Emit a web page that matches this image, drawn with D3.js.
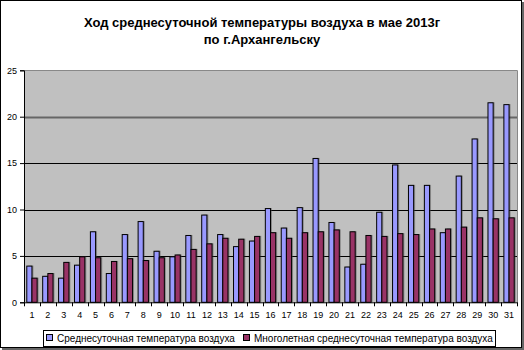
<!DOCTYPE html>
<html><head><meta charset="utf-8">
<script src="https://cdn.jsdelivr.net/npm/d3@7"></script>
<style>
html,body{margin:0;padding:0;background:#fff;}
svg{display:block;font-family:"Liberation Sans",Arial,sans-serif;}
</style></head>
<body>
<svg id="c" width="524" height="350"></svg>
<script>
const days = d3.range(1, 32).map(String);
const actual = [3.9,2.8,2.6,4.0,7.6,3.1,7.3,8.7,5.5,4.9,7.2,9.4,7.3,6.0,6.6,10.1,8.0,10.2,15.5,8.6,3.8,4.1,9.7,14.8,12.6,12.6,7.5,13.6,17.6,21.5,21.3];
const normal = [2.6,3.1,4.3,4.9,4.8,4.4,4.7,4.5,4.8,5.1,5.7,6.3,6.9,6.8,7.1,7.5,6.9,7.5,7.6,7.8,7.6,7.2,7.1,7.4,7.3,7.9,7.9,8.1,9.1,9.0,9.1];
const yTicks = [0,5,10,15,20,25];
const seriesNames = ["Среднесуточная температура воздуха","Многолетная  среднесуточная температура воздуха"];
const colors = ["#9999FF","#993366"];
const titleLines = ["Ход среднесуточной температуры воздуха в мае 2013г","по г.Архангельску"];

const svg = d3.select("#c");
// outer border
svg.append("rect").attr("x",0.5).attr("y",0.5).attr("width",521).attr("height",347)
  .attr("fill","#fff").attr("stroke","#000");
svg.append("line").attr("x1",523).attr("x2",523).attr("y1",2).attr("y2",350).attr("stroke","#666").attr("stroke-width",2);
svg.append("line").attr("x1",2).attr("x2",524).attr("y1",349).attr("y2",349).attr("stroke","#666").attr("stroke-width",2);

const L = 24, R = 517, T = 70.3, B = 302.3;
const x = d3.scaleBand().domain(days).range([L, R]).paddingInner(0.35).paddingOuter(0.175);
const xs = d3.scaleBand().domain([0,1]).range([0, x.bandwidth()]);
const y = d3.scaleLinear().domain([0,25]).range([B, T]);

// plot bg
svg.append("rect").attr("x",L).attr("y",T).attr("width",R-L).attr("height",B-T).attr("fill","#C0C0C0");
// grid
yTicks.filter(v=>v>0).forEach(v=>{
  const yy = Math.round(y(v))+0.5;
  svg.append("line").attr("x1",L).attr("x2",R).attr("y1",yy).attr("y2",yy)
    .attr("stroke", v===20?"#666":(v===25?"#888":"#000"))
    .attr("stroke-width", v===20?2:1);
});
svg.append("line").attr("x1",R+0.5).attr("x2",R+0.5).attr("y1",T).attr("y2",B).attr("stroke","#888");

// bars
[actual, normal].forEach((vals, si) => {
  const g = svg.append("g");
  g.selectAll("rect.sh").data(vals).join("rect")
    .attr("x",(d,i)=>x(days[i])+xs(si)+1.5).attr("y",d=>y(d)-0.5)
    .attr("width",xs.bandwidth()).attr("height",d=>B-y(d)+0.5)
    .attr("fill","#444").attr("opacity",0.45);
  g.selectAll("rect.b").data(vals).join("rect")
    .attr("x",(d,i)=>x(days[i])+xs(si)).attr("y",d=>y(d))
    .attr("width",xs.bandwidth()).attr("height",d=>B-y(d))
    .attr("fill",colors[si]).attr("stroke","#000").attr("stroke-width",1);
});

// y axis
const ya = svg.append("g").attr("transform",`translate(${L},0)`)
  .call(d3.axisLeft(y).tickValues(yTicks).tickSize(4).tickPadding(3));
ya.select(".domain").attr("stroke","#000");
ya.selectAll("text").attr("font-size",9).attr("fill","#000").attr("font-family","'Liberation Sans',Arial,sans-serif");
// x axis
const xa = svg.append("g").attr("transform",`translate(0,${B})`)
  .call(d3.axisBottom(x).tickSize(0).tickPadding(9));
xa.select(".domain").attr("stroke","#000");
xa.selectAll("text").attr("font-size",9).attr("fill","#000").attr("font-family","'Liberation Sans',Arial,sans-serif");
// x ticks at category boundaries
const step = x.step();
d3.range(0,32).forEach(i=>{
  const xx = Math.round(L + i*(R-L)/31)+0.5;
  svg.append("line").attr("x1",xx).attr("x2",xx).attr("y1",B).attr("y2",B+4).attr("stroke","#000");
});

// title
svg.append("g").selectAll("text").data(titleLines).join("text")
  .attr("x",262).attr("y",(d,i)=>27+i*17).attr("text-anchor","middle")
  .attr("font-size",13).attr("font-weight","bold").text(d=>d);

// legend
const lg = svg.append("g");
lg.append("rect").attr("x",43.5).attr("y",330.5).attr("width",452).attr("height",16).attr("fill","#fff").attr("stroke","#000");
const lx = [46, 243];
seriesNames.forEach((n,i)=>{
  lg.append("rect").attr("x",lx[i]+0.5).attr("y",334.5).attr("width",6).attr("height",6).attr("fill",colors[i]).attr("stroke","#000");
  lg.append("text").attr("x",lx[i]+11).attr("y",342).attr("font-size",10).text(n);
});
</script>
</body></html>
